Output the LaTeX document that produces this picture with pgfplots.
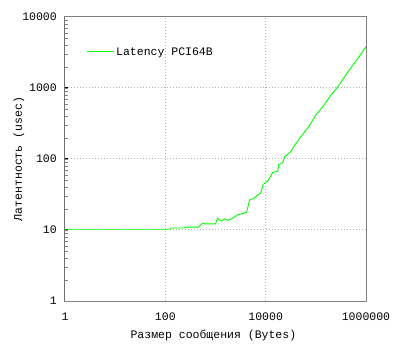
\documentclass[border=0pt]{standalone}
\usepackage{fontspec}
\setmainfont{Liberation Mono}
\usepackage{pgfplots}
\pgfplotsset{compat=1.18}
\definecolor{lgreen}{RGB}{0,255,0}
\begin{document}
\begin{tikzpicture}[font=\fontsize{11.5bp}{13bp}\selectfont]
\begin{loglogaxis}[
  scale only axis, width=301bp, height=284bp,
  xmin=1, xmax=1000000, ymin=1, ymax=10000,
  /pgf/number format/assume math mode=true,
  xtick={1,100,10000,1000000}, xticklabels={1,100,10000,1000000},
  ytick={1,10,100,1000,10000}, yticklabels={1,10,100,1000,10000},
  minor xtick={}, minor ytick={},
  grid=major, major grid style={dash pattern=on 1bp off 2bp, draw=black!30, line width=1bp},
  axis line style={draw=black!50, line width=1bp},
  tick align=inside, ytick pos=left, xtick pos=bottom,
  major tick length=3bp,
  major x tick style={draw=none},
  major y tick style={draw=black, line width=1bp},
  xticklabel style={anchor=center, inner sep=0pt, yshift=-15.7bp},
  yticklabel style={anchor=east, inner sep=0pt, xshift=-8bp},
  xlabel={Размер сообщения (Bytes)},
  ylabel={Латентность (usec)},
  xlabel style={at={(axis description cs:0.493,-0.12)}, anchor=center},
  ylabel style={at={(axis description cs:-0.153,0.5)}, anchor=center},
  legend style={at={(axis description cs:0.07,0.877)}, anchor=west, draw=none, fill=none, inner sep=0pt,
    nodes={inner xsep=2bp, inner ysep=0pt}},
  legend image code/.code={\draw[lgreen, line width=0.9bp] (0bp,0bp) -- (27bp,0bp);},
]
\addplot[color=lgreen, line width=0.9bp] coordinates {
(1,10.23) (2,10.23) (5,10.23) (10,10.23) (20,10.23) (50,10.23) (126,10.23)
(132,10.67) (240,10.67) (245,11.0) (457,11.0) (550,12.4) (631,12.2) (1000,12.2)
(1096,14.6) (1318,13.4) (1514,14.2) (1820,13.7) (2188,14.6) (2754,16.3) (3631,17.2)
(4169,17.8) (4786,26.5) (5754,27.9) (7244,31.8) (7943,32.9) (8913,43.7) (10965,49.0)
(11482,51.4) (13804,64.5) (17378,67.1) (18197,83.2) (21878,88.7) (23988,107.8)
(31623,126.8) (36308,149) (50119,206) (72444,285) (100000,417) (138038,545)
(199526,797) (275423,1043) (436516,1698) (691831,2620) (1000000,3819)
};
\addlegendentry{Latency PCI64B}
\draw[black, line width=1bp] (rel axis cs:0,1) -- (rel axis cs:0,0) -- (rel axis cs:1,0);
\end{loglogaxis}
\pgfresetboundingbox
\path (current axis.south west) ++(-65bp,-48bp) rectangle ([shift={(35bp,17bp)}]current axis.north east);
\end{tikzpicture}
\end{document}
